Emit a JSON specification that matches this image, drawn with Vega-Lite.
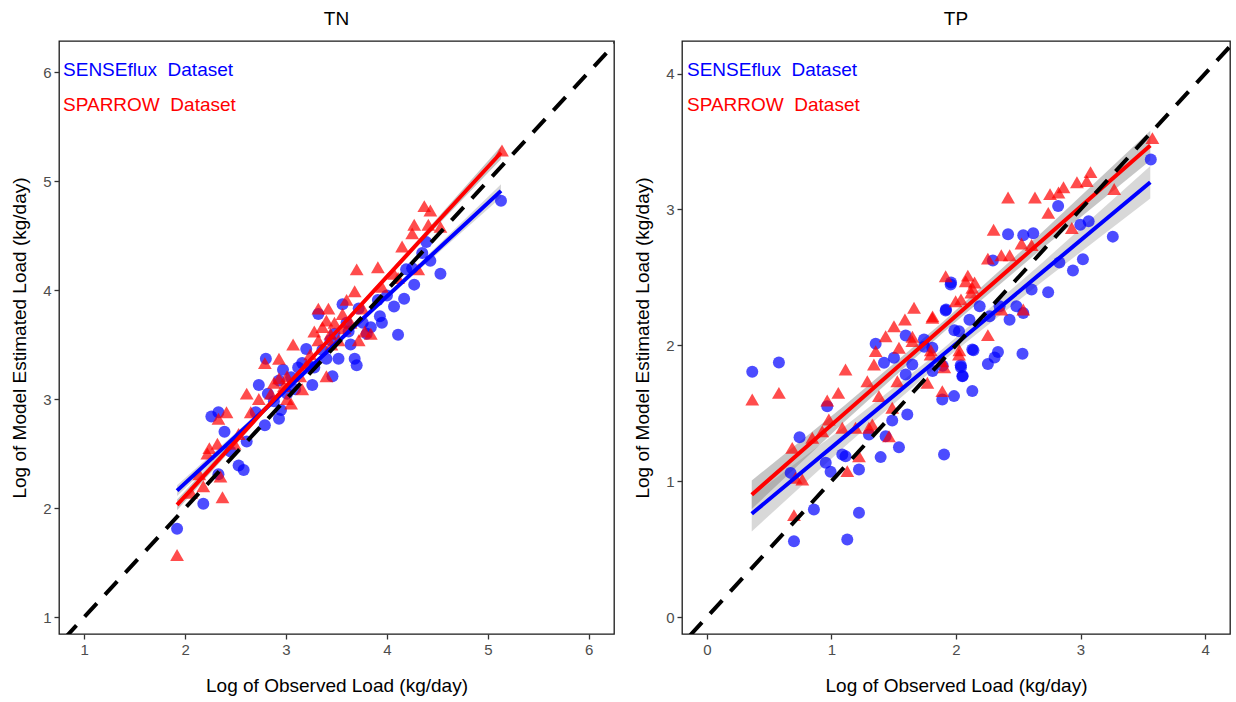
{
"$schema": "https://vega.github.io/schema/vega-lite/v6.json",
"background": "white",
"padding": {"left": 10, "top": 9, "right": 4, "bottom": 4},
"spacing": 18,
"config": {
  "font": "Liberation Sans",
  "view": {"stroke": "#1a1a1a", "strokeWidth": 1.3},
  "axis": {"grid": false, "domain": false, "ticks": true, "tickColor": "#333333", "tickSize": 5, "tickWidth": 1.3, "labelFontSize": 15, "labelColor": "#4d4d4d", "labelPadding": 3, "titleFontSize": 19, "titleFontWeight": "normal", "titleColor": "#000000"},
  "axisX": {"titlePadding": 19},
  "axisY": {"titlePadding": 13},
  "title": {"fontSize": 19, "fontWeight": "normal", "offset": 12, "anchor": "middle", "color": "#000000"}
},
"datasets": {
  "tn_pts": [
    {"series":"SENSEflux","x":1.92,"y":1.81},{"series":"SENSEflux","x":2.18,"y":2.04},{"series":"SENSEflux","x":2.26,"y":2.84},{"series":"SENSEflux","x":2.33,"y":2.88},{"series":"SENSEflux","x":2.39,"y":2.70},{"series":"SENSEflux","x":2.33,"y":2.31},{"series":"SENSEflux","x":2.53,"y":2.39},{"series":"SENSEflux","x":2.58,"y":2.35},{"series":"SENSEflux","x":2.61,"y":2.61},{"series":"SENSEflux","x":2.73,"y":3.13},{"series":"SENSEflux","x":2.80,"y":3.37},{"series":"SENSEflux","x":2.82,"y":3.05},{"series":"SENSEflux","x":2.79,"y":2.76},{"series":"SENSEflux","x":2.93,"y":2.82},{"series":"SENSEflux","x":2.95,"y":2.90},{"series":"SENSEflux","x":2.97,"y":3.27},{"series":"SENSEflux","x":2.93,"y":3.17},{"series":"SENSEflux","x":3.09,"y":3.09},{"series":"SENSEflux","x":3.16,"y":3.33},{"series":"SENSEflux","x":3.20,"y":3.46},{"series":"SENSEflux","x":3.26,"y":3.13},{"series":"SENSEflux","x":3.32,"y":3.78},{"series":"SENSEflux","x":3.28,"y":3.29},{"series":"SENSEflux","x":3.40,"y":3.37},{"series":"SENSEflux","x":3.46,"y":3.21},{"series":"SENSEflux","x":3.52,"y":3.37},{"series":"SENSEflux","x":3.44,"y":3.54},{"series":"SENSEflux","x":3.60,"y":3.70},{"series":"SENSEflux","x":3.68,"y":3.37},{"series":"SENSEflux","x":3.70,"y":3.31},{"series":"SENSEflux","x":3.76,"y":3.70},{"series":"SENSEflux","x":3.84,"y":3.66},{"series":"SENSEflux","x":3.93,"y":3.76},{"series":"SENSEflux","x":3.91,"y":3.91},{"series":"SENSEflux","x":4.07,"y":3.85},{"series":"SENSEflux","x":4.17,"y":3.92},{"series":"SENSEflux","x":4.11,"y":3.59},{"series":"SENSEflux","x":4.27,"y":4.05},{"series":"SENSEflux","x":4.35,"y":4.34},{"series":"SENSEflux","x":4.43,"y":4.27},{"series":"SENSEflux","x":4.53,"y":4.15},{"series":"SENSEflux","x":4.39,"y":4.44},{"series":"SENSEflux","x":4.19,"y":4.19},{"series":"SENSEflux","x":5.13,"y":4.82},{"series":"SENSEflux","x":3.01,"y":3.05},{"series":"SENSEflux","x":3.12,"y":3.29},{"series":"SENSEflux","x":3.64,"y":3.50},{"series":"SENSEflux","x":3.72,"y":3.83},{"series":"SENSEflux","x":3.56,"y":3.87},{"series":"SENSEflux","x":3.95,"y":3.70},{"series":"SENSEflux","x":4.25,"y":4.20},{"series":"SENSEflux","x":2.45,"y":2.52},{"series":"SENSEflux","x":2.88,"y":2.98},{"series":"SENSEflux","x":3.05,"y":3.20},{"series":"SENSEflux","x":3.36,"y":3.45},{"series":"SENSEflux","x":3.48,"y":3.60},{"series":"SENSEflux","x":3.80,"y":3.60},{"series":"SENSEflux","x":4.00,"y":3.95},{"series":"SENSEflux","x":2.70,"y":2.88},{"series":"SENSEflux","x":3.24,"y":3.30},{"series":"SENSEflux","x":3.62,"y":3.62},
    {"series":"SPARROW","x":1.92,"y":1.57},{"series":"SPARROW","x":2.06,"y":2.14},{"series":"SPARROW","x":2.18,"y":2.20},{"series":"SPARROW","x":2.24,"y":2.55},{"series":"SPARROW","x":2.32,"y":2.59},{"series":"SPARROW","x":2.37,"y":2.10},{"series":"SPARROW","x":2.33,"y":2.82},{"series":"SPARROW","x":2.41,"y":2.88},{"series":"SPARROW","x":2.35,"y":2.29},{"series":"SPARROW","x":2.14,"y":2.31},{"series":"SPARROW","x":2.49,"y":2.59},{"series":"SPARROW","x":2.53,"y":2.68},{"series":"SPARROW","x":2.65,"y":2.88},{"series":"SPARROW","x":2.73,"y":3.00},{"series":"SPARROW","x":2.79,"y":3.33},{"series":"SPARROW","x":2.85,"y":3.05},{"series":"SPARROW","x":2.93,"y":3.19},{"series":"SPARROW","x":3.01,"y":3.00},{"series":"SPARROW","x":3.07,"y":3.50},{"series":"SPARROW","x":3.14,"y":3.21},{"series":"SPARROW","x":3.20,"y":3.31},{"series":"SPARROW","x":3.24,"y":3.41},{"series":"SPARROW","x":3.32,"y":3.54},{"series":"SPARROW","x":3.36,"y":3.66},{"series":"SPARROW","x":3.40,"y":3.72},{"series":"SPARROW","x":3.44,"y":3.60},{"series":"SPARROW","x":3.48,"y":3.70},{"series":"SPARROW","x":3.40,"y":3.21},{"series":"SPARROW","x":3.56,"y":3.78},{"series":"SPARROW","x":3.60,"y":3.91},{"series":"SPARROW","x":3.68,"y":3.99},{"series":"SPARROW","x":3.70,"y":4.19},{"series":"SPARROW","x":3.72,"y":3.54},{"series":"SPARROW","x":3.78,"y":3.62},{"series":"SPARROW","x":3.84,"y":3.60},{"series":"SPARROW","x":3.91,"y":4.21},{"series":"SPARROW","x":3.95,"y":4.03},{"series":"SPARROW","x":4.07,"y":4.15},{"series":"SPARROW","x":4.15,"y":4.40},{"series":"SPARROW","x":4.25,"y":4.52},{"series":"SPARROW","x":4.31,"y":4.19},{"series":"SPARROW","x":4.37,"y":4.77},{"series":"SPARROW","x":4.43,"y":4.73},{"series":"SPARROW","x":4.41,"y":4.60},{"series":"SPARROW","x":4.53,"y":4.58},{"series":"SPARROW","x":5.14,"y":5.28},{"series":"SPARROW","x":2.93,"y":3.37},{"series":"SPARROW","x":3.16,"y":3.09},{"series":"SPARROW","x":3.01,"y":3.21},{"series":"SPARROW","x":3.52,"y":3.54},{"series":"SPARROW","x":3.32,"y":3.83},{"series":"SPARROW","x":3.64,"y":3.70},{"series":"SPARROW","x":4.11,"y":4.11},{"series":"SPARROW","x":4.27,"y":4.60},{"series":"SPARROW","x":2.61,"y":3.05},{"series":"SPARROW","x":3.05,"y":2.96},{"series":"SPARROW","x":3.28,"y":3.62},{"series":"SPARROW","x":3.42,"y":3.83},{"series":"SPARROW","x":3.76,"y":3.83},{"series":"SPARROW","x":2.22,"y":2.50},{"series":"SPARROW","x":2.98,"y":3.12},{"series":"SPARROW","x":3.45,"y":3.50},{"series":"SPARROW","x":3.58,"y":3.65},{"series":"SPARROW","x":2.88,"y":3.15}
  ],
  "tn_fit": [
    {"series":"SENSEflux","x":1.92,"fit":2.16,"lo":2.11,"hi":2.21},{"series":"SENSEflux","x":2.7,"fit":2.828,"lo":2.80,"hi":2.856},{"series":"SENSEflux","x":3.5,"fit":3.514,"lo":3.495,"hi":3.533},{"series":"SENSEflux","x":4.3,"fit":4.199,"lo":4.17,"hi":4.228},{"series":"SENSEflux","x":5.13,"fit":4.91,"lo":4.85,"hi":4.97},
    {"series":"SPARROW","x":1.92,"fit":2.03,"lo":1.98,"hi":2.08},{"series":"SPARROW","x":2.7,"fit":2.815,"lo":2.787,"hi":2.843},{"series":"SPARROW","x":3.5,"fit":3.62,"lo":3.60,"hi":3.64},{"series":"SPARROW","x":4.3,"fit":4.425,"lo":4.397,"hi":4.453},{"series":"SPARROW","x":5.13,"fit":5.26,"lo":5.20,"hi":5.32}
  ],
  "tn_diag": [{"x":0.6,"y":0.6},{"x":6.4,"y":6.4}],
  "tn_lab": [
    {"series":"SENSEflux","label":"SENSEflux\u00a0 Dataset","x":0.79,"y":6.02},
    {"series":"SPARROW","label":"SPARROW\u00a0 Dataset","x":0.79,"y":5.695}
  ],
  "tp_pts": [
    {"series":"SENSEflux","x":0.364,"y":1.805},{"series":"SENSEflux","x":0.578,"y":1.874},{"series":"SENSEflux","x":0.744,"y":1.324},{"series":"SENSEflux","x":0.699,"y":0.558},{"series":"SENSEflux","x":0.859,"y":0.791},{"series":"SENSEflux","x":1.127,"y":0.571},{"series":"SENSEflux","x":1.221,"y":0.767},{"series":"SENSEflux","x":0.966,"y":1.552},{"series":"SENSEflux","x":0.954,"y":1.135},{"series":"SENSEflux","x":0.993,"y":1.069},{"series":"SENSEflux","x":1.087,"y":1.196},{"series":"SENSEflux","x":1.113,"y":1.184},{"series":"SENSEflux","x":1.221,"y":1.086},{"series":"SENSEflux","x":1.395,"y":1.177},{"series":"SENSEflux","x":1.542,"y":1.25},{"series":"SENSEflux","x":1.609,"y":1.491},{"series":"SENSEflux","x":1.488,"y":1.447},{"series":"SENSEflux","x":1.435,"y":1.331},{"series":"SENSEflux","x":1.301,"y":1.344},{"series":"SENSEflux","x":0.672,"y":1.061},{"series":"SENSEflux","x":1.355,"y":2.011},{"series":"SENSEflux","x":1.422,"y":1.871},{"series":"SENSEflux","x":1.502,"y":1.908},{"series":"SENSEflux","x":1.596,"y":2.072},{"series":"SENSEflux","x":1.649,"y":1.859},{"series":"SENSEflux","x":1.743,"y":2.043},{"series":"SENSEflux","x":1.81,"y":1.982},{"series":"SENSEflux","x":1.89,"y":1.601},{"series":"SENSEflux","x":1.984,"y":1.626},{"series":"SENSEflux","x":1.904,"y":1.196},{"series":"SENSEflux","x":1.917,"y":2.256},{"series":"SENSEflux","x":1.957,"y":2.448},{"series":"SENSEflux","x":2.038,"y":1.854},{"series":"SENSEflux","x":2.051,"y":1.773},{"series":"SENSEflux","x":2.131,"y":1.969},{"series":"SENSEflux","x":2.131,"y":1.663},{"series":"SENSEflux","x":2.024,"y":2.104},{"series":"SENSEflux","x":1.596,"y":1.785},{"series":"SENSEflux","x":3.564,"y":3.368},{"series":"SENSEflux","x":3.259,"y":2.80},{"series":"SENSEflux","x":3.019,"y":2.633},{"series":"SENSEflux","x":2.939,"y":2.55},{"series":"SENSEflux","x":2.83,"y":2.61},{"series":"SENSEflux","x":2.74,"y":2.39},{"series":"SENSEflux","x":2.82,"y":3.025},{"series":"SENSEflux","x":2.998,"y":2.888},{"series":"SENSEflux","x":3.065,"y":2.913},{"series":"SENSEflux","x":2.62,"y":2.825},{"series":"SENSEflux","x":2.54,"y":2.81},{"series":"SENSEflux","x":2.418,"y":2.818},{"series":"SENSEflux","x":2.607,"y":2.41},{"series":"SENSEflux","x":2.534,"y":1.938},{"series":"SENSEflux","x":2.337,"y":1.95},{"series":"SENSEflux","x":2.31,"y":1.91},{"series":"SENSEflux","x":2.256,"y":1.863},{"series":"SENSEflux","x":2.14,"y":1.963},{"series":"SENSEflux","x":2.04,"y":1.838},{"series":"SENSEflux","x":2.054,"y":1.775},{"series":"SENSEflux","x":1.893,"y":1.85},{"series":"SENSEflux","x":1.92,"y":2.263},{"series":"SENSEflux","x":1.96,"y":2.463},{"series":"SENSEflux","x":2.296,"y":2.625},{"series":"SENSEflux","x":2.108,"y":2.188},{"series":"SENSEflux","x":2.43,"y":2.188},{"series":"SENSEflux","x":2.485,"y":2.288},{"series":"SENSEflux","x":2.54,"y":2.238},{"series":"SENSEflux","x":2.35,"y":2.288},{"series":"SENSEflux","x":2.27,"y":2.213},{"series":"SENSEflux","x":2.19,"y":2.288},{"series":"SENSEflux","x":1.745,"y":1.99},{"series":"SENSEflux","x":1.987,"y":2.11},{"series":"SENSEflux","x":1.812,"y":1.81},
    {"series":"SPARROW","x":0.364,"y":1.601},{"series":"SPARROW","x":0.578,"y":1.65},{"series":"SPARROW","x":1.113,"y":1.822},{"series":"SPARROW","x":1.055,"y":1.65},{"series":"SPARROW","x":0.966,"y":1.594},{"series":"SPARROW","x":0.699,"y":0.75},{"series":"SPARROW","x":0.685,"y":1.245},{"series":"SPARROW","x":0.712,"y":1.025},{"series":"SPARROW","x":0.766,"y":1.012},{"series":"SPARROW","x":0.846,"y":1.319},{"series":"SPARROW","x":0.926,"y":1.368},{"series":"SPARROW","x":0.979,"y":1.454},{"series":"SPARROW","x":1.087,"y":1.393},{"series":"SPARROW","x":1.127,"y":1.074},{"series":"SPARROW","x":1.221,"y":1.184},{"series":"SPARROW","x":1.301,"y":1.393},{"series":"SPARROW","x":1.328,"y":1.417},{"series":"SPARROW","x":1.381,"y":1.626},{"series":"SPARROW","x":1.488,"y":1.54},{"series":"SPARROW","x":1.462,"y":1.331},{"series":"SPARROW","x":1.288,"y":1.736},{"series":"SPARROW","x":1.341,"y":1.859},{"series":"SPARROW","x":1.355,"y":1.957},{"series":"SPARROW","x":1.435,"y":2.067},{"series":"SPARROW","x":1.502,"y":2.141},{"series":"SPARROW","x":1.59,"y":2.19},{"series":"SPARROW","x":1.663,"y":2.276},{"series":"SPARROW","x":1.81,"y":2.202},{"series":"SPARROW","x":1.77,"y":1.724},{"series":"SPARROW","x":1.89,"y":1.663},{"series":"SPARROW","x":1.917,"y":2.509},{"series":"SPARROW","x":1.997,"y":2.325},{"series":"SPARROW","x":2.078,"y":2.472},{"series":"SPARROW","x":2.131,"y":2.423},{"series":"SPARROW","x":1.542,"y":1.982},{"series":"SPARROW","x":1.649,"y":2.031},{"series":"SPARROW","x":1.796,"y":1.933},{"series":"SPARROW","x":1.89,"y":1.883},{"series":"SPARROW","x":2.024,"y":1.933},{"series":"SPARROW","x":1.194,"y":1.393},{"series":"SPARROW","x":1.529,"y":1.736},{"series":"SPARROW","x":3.577,"y":3.525},{"series":"SPARROW","x":3.27,"y":3.15},{"series":"SPARROW","x":3.08,"y":3.275},{"series":"SPARROW","x":3.05,"y":3.21},{"series":"SPARROW","x":2.971,"y":3.2},{"series":"SPARROW","x":2.863,"y":3.163},{"series":"SPARROW","x":2.823,"y":3.125},{"series":"SPARROW","x":2.755,"y":3.113},{"series":"SPARROW","x":2.634,"y":3.088},{"series":"SPARROW","x":2.418,"y":3.088},{"series":"SPARROW","x":2.741,"y":2.975},{"series":"SPARROW","x":2.302,"y":2.85},{"series":"SPARROW","x":2.526,"y":2.75},{"series":"SPARROW","x":2.607,"y":2.738},{"series":"SPARROW","x":2.93,"y":2.863},{"series":"SPARROW","x":2.256,"y":2.638},{"series":"SPARROW","x":2.364,"y":2.663},{"series":"SPARROW","x":2.431,"y":2.663},{"series":"SPARROW","x":2.095,"y":2.513},{"series":"SPARROW","x":2.149,"y":2.463},{"series":"SPARROW","x":1.812,"y":2.213},{"series":"SPARROW","x":2.04,"y":2.338},{"series":"SPARROW","x":2.122,"y":2.388},{"series":"SPARROW","x":2.256,"y":2.075},{"series":"SPARROW","x":2.364,"y":2.263},{"series":"SPARROW","x":2.54,"y":2.263},{"series":"SPARROW","x":2.027,"y":1.963},{"series":"SPARROW","x":1.906,"y":1.838},{"series":"SPARROW","x":1.798,"y":1.963},{"series":"SPARROW","x":1.65,"y":2.063}
  ],
  "tp_fit": [
    {"series":"SENSEflux","x":0.36,"fit":0.76,"lo":0.63,"hi":0.89},{"series":"SENSEflux","x":1.1,"fit":1.324,"lo":1.249,"hi":1.399},{"series":"SENSEflux","x":1.9,"fit":1.934,"lo":1.889,"hi":1.979},{"series":"SENSEflux","x":2.7,"fit":2.544,"lo":2.474,"hi":2.614},{"series":"SENSEflux","x":3.56,"fit":3.2,"lo":3.08,"hi":3.32},
    {"series":"SPARROW","x":0.36,"fit":0.9,"lo":0.795,"hi":1.005},{"series":"SPARROW","x":1.1,"fit":1.494,"lo":1.434,"hi":1.554},{"series":"SPARROW","x":1.9,"fit":2.137,"lo":2.097,"hi":2.177},{"series":"SPARROW","x":2.7,"fit":2.779,"lo":2.719,"hi":2.839},{"series":"SPARROW","x":3.56,"fit":3.47,"lo":3.36,"hi":3.58}
  ],
  "tp_diag": [{"x":-0.3,"y":-0.3},{"x":4.4,"y":4.4}],
  "tp_lab": [
    {"series":"SENSEflux","label":"SENSEflux\u00a0 Dataset","x":-0.16,"y":4.025},
    {"series":"SPARROW","label":"SPARROW\u00a0 Dataset","x":-0.16,"y":3.772}
  ]
},
"hconcat": [
  {
    "width": 555, "height": 593,
    "title": "TN",
    "layer": [
      {"data": {"name": "tn_fit"}, "transform": [{"filter": "datum.series === 'SENSEflux'"}],
       "mark": {"type": "area", "color": "#a8a8a8", "opacity": 0.45, "clip": true},
       "encoding": {
         "x": {"field": "x", "type": "quantitative", "scale": {"domain": [0.75, 6.25], "nice": false, "zero": false}, "axis": {"values": [1,2,3,4,5,6], "title": "Log of Observed Load (kg/day)"}},
         "y": {"field": "lo", "type": "quantitative", "scale": {"domain": [0.845, 6.285], "nice": false, "zero": false}, "axis": {"values": [1,2,3,4,5,6], "title": "Log of Model Estimated Load (kg/day)"}},
         "y2": {"field": "hi"}}},
      {"data": {"name": "tn_fit"}, "transform": [{"filter": "datum.series === 'SPARROW'"}],
       "mark": {"type": "area", "color": "#808080", "opacity": 0.45, "clip": true},
       "encoding": {
         "x": {"field": "x", "type": "quantitative", "scale": {"domain": [0.75, 6.25], "nice": false, "zero": false}, "axis": {"values": [1,2,3,4,5,6], "title": "Log of Observed Load (kg/day)"}},
         "y": {"field": "lo", "type": "quantitative", "scale": {"domain": [0.845, 6.285], "nice": false, "zero": false}, "axis": {"values": [1,2,3,4,5,6], "title": "Log of Model Estimated Load (kg/day)"}},
         "y2": {"field": "hi"}}},
      {"data": {"name": "tn_pts"}, "transform": [{"filter": "datum.series === 'SENSEflux'"}],
       "mark": {"type": "point", "shape": "circle", "filled": true, "size": 144, "color": "#0000ff", "opacity": 0.7, "strokeWidth": 0},
       "encoding": {
         "x": {"field": "x", "type": "quantitative", "scale": {"domain": [0.75, 6.25], "nice": false, "zero": false}, "axis": {"values": [1,2,3,4,5,6], "title": "Log of Observed Load (kg/day)"}},
         "y": {"field": "y", "type": "quantitative", "scale": {"domain": [0.845, 6.285], "nice": false, "zero": false}, "axis": {"values": [1,2,3,4,5,6], "title": "Log of Model Estimated Load (kg/day)"}}}},
      {"data": {"name": "tn_pts"}, "transform": [{"filter": "datum.series === 'SPARROW'"}],
       "mark": {"type": "point", "shape": "triangle-up", "filled": true, "size": 190, "color": "#ff0000", "opacity": 0.7, "strokeWidth": 0},
       "encoding": {
         "x": {"field": "x", "type": "quantitative", "scale": {"domain": [0.75, 6.25], "nice": false, "zero": false}, "axis": {"values": [1,2,3,4,5,6], "title": "Log of Observed Load (kg/day)"}},
         "y": {"field": "y", "type": "quantitative", "scale": {"domain": [0.845, 6.285], "nice": false, "zero": false}, "axis": {"values": [1,2,3,4,5,6], "title": "Log of Model Estimated Load (kg/day)"}}}},
      {"data": {"name": "tn_fit"},
       "mark": {"type": "line", "strokeWidth": 4, "clip": true},
       "encoding": {
         "x": {"field": "x", "type": "quantitative", "scale": {"domain": [0.75, 6.25], "nice": false, "zero": false}, "axis": {"values": [1,2,3,4,5,6], "title": "Log of Observed Load (kg/day)"}},
         "y": {"field": "fit", "type": "quantitative", "scale": {"domain": [0.845, 6.285], "nice": false, "zero": false}, "axis": {"values": [1,2,3,4,5,6], "title": "Log of Model Estimated Load (kg/day)"}},
         "color": {"field": "series", "type": "nominal", "scale": {"domain": ["SENSEflux", "SPARROW"], "range": ["#0000ff", "#ff0000"]}, "legend": null}}},
      {"data": {"name": "tn_diag"},
       "mark": {"type": "line", "color": "#000000", "strokeWidth": 4, "strokeDash": [18, 12], "clip": true},
       "encoding": {
         "x": {"field": "x", "type": "quantitative", "scale": {"domain": [0.75, 6.25], "nice": false, "zero": false}, "axis": {"values": [1,2,3,4,5,6], "title": "Log of Observed Load (kg/day)"}},
         "y": {"field": "y", "type": "quantitative", "scale": {"domain": [0.845, 6.285], "nice": false, "zero": false}, "axis": {"values": [1,2,3,4,5,6], "title": "Log of Model Estimated Load (kg/day)"}}}},
      {"data": {"name": "tn_lab"},
       "mark": {"type": "text", "align": "left", "baseline": "middle", "fontSize": 19},
       "encoding": {
         "x": {"field": "x", "type": "quantitative", "scale": {"domain": [0.75, 6.25], "nice": false, "zero": false}, "axis": {"values": [1,2,3,4,5,6], "title": "Log of Observed Load (kg/day)"}},
         "y": {"field": "y", "type": "quantitative", "scale": {"domain": [0.845, 6.285], "nice": false, "zero": false}, "axis": {"values": [1,2,3,4,5,6], "title": "Log of Model Estimated Load (kg/day)"}},
         "text": {"field": "label", "type": "nominal"},
         "color": {"field": "series", "type": "nominal", "scale": {"domain": ["SENSEflux", "SPARROW"], "range": ["#0000ff", "#ff0000"]}, "legend": null}}}
    ]
  },
  {
    "width": 548, "height": 593,
    "title": "TP",
    "layer": [
      {"data": {"name": "tp_fit"}, "transform": [{"filter": "datum.series === 'SENSEflux'"}],
       "mark": {"type": "area", "color": "#a8a8a8", "opacity": 0.45, "clip": true},
       "encoding": {
         "x": {"field": "x", "type": "quantitative", "scale": {"domain": [-0.2, 4.2], "nice": false, "zero": false}, "axis": {"values": [0,1,2,3,4], "title": "Log of Observed Load (kg/day)"}},
         "y": {"field": "lo", "type": "quantitative", "scale": {"domain": [-0.125, 4.24], "nice": false, "zero": false}, "axis": {"values": [0,1,2,3,4], "title": "Log of Model Estimated Load (kg/day)"}},
         "y2": {"field": "hi"}}},
      {"data": {"name": "tp_fit"}, "transform": [{"filter": "datum.series === 'SPARROW'"}],
       "mark": {"type": "area", "color": "#808080", "opacity": 0.45, "clip": true},
       "encoding": {
         "x": {"field": "x", "type": "quantitative", "scale": {"domain": [-0.2, 4.2], "nice": false, "zero": false}, "axis": {"values": [0,1,2,3,4], "title": "Log of Observed Load (kg/day)"}},
         "y": {"field": "lo", "type": "quantitative", "scale": {"domain": [-0.125, 4.24], "nice": false, "zero": false}, "axis": {"values": [0,1,2,3,4], "title": "Log of Model Estimated Load (kg/day)"}},
         "y2": {"field": "hi"}}},
      {"data": {"name": "tp_pts"}, "transform": [{"filter": "datum.series === 'SENSEflux'"}],
       "mark": {"type": "point", "shape": "circle", "filled": true, "size": 144, "color": "#0000ff", "opacity": 0.7, "strokeWidth": 0},
       "encoding": {
         "x": {"field": "x", "type": "quantitative", "scale": {"domain": [-0.2, 4.2], "nice": false, "zero": false}, "axis": {"values": [0,1,2,3,4], "title": "Log of Observed Load (kg/day)"}},
         "y": {"field": "y", "type": "quantitative", "scale": {"domain": [-0.125, 4.24], "nice": false, "zero": false}, "axis": {"values": [0,1,2,3,4], "title": "Log of Model Estimated Load (kg/day)"}}}},
      {"data": {"name": "tp_pts"}, "transform": [{"filter": "datum.series === 'SPARROW'"}],
       "mark": {"type": "point", "shape": "triangle-up", "filled": true, "size": 190, "color": "#ff0000", "opacity": 0.7, "strokeWidth": 0},
       "encoding": {
         "x": {"field": "x", "type": "quantitative", "scale": {"domain": [-0.2, 4.2], "nice": false, "zero": false}, "axis": {"values": [0,1,2,3,4], "title": "Log of Observed Load (kg/day)"}},
         "y": {"field": "y", "type": "quantitative", "scale": {"domain": [-0.125, 4.24], "nice": false, "zero": false}, "axis": {"values": [0,1,2,3,4], "title": "Log of Model Estimated Load (kg/day)"}}}},
      {"data": {"name": "tp_fit"},
       "mark": {"type": "line", "strokeWidth": 4, "clip": true},
       "encoding": {
         "x": {"field": "x", "type": "quantitative", "scale": {"domain": [-0.2, 4.2], "nice": false, "zero": false}, "axis": {"values": [0,1,2,3,4], "title": "Log of Observed Load (kg/day)"}},
         "y": {"field": "fit", "type": "quantitative", "scale": {"domain": [-0.125, 4.24], "nice": false, "zero": false}, "axis": {"values": [0,1,2,3,4], "title": "Log of Model Estimated Load (kg/day)"}},
         "color": {"field": "series", "type": "nominal", "scale": {"domain": ["SENSEflux", "SPARROW"], "range": ["#0000ff", "#ff0000"]}, "legend": null}}},
      {"data": {"name": "tp_diag"},
       "mark": {"type": "line", "color": "#000000", "strokeWidth": 4, "strokeDash": [18, 12], "clip": true},
       "encoding": {
         "x": {"field": "x", "type": "quantitative", "scale": {"domain": [-0.2, 4.2], "nice": false, "zero": false}, "axis": {"values": [0,1,2,3,4], "title": "Log of Observed Load (kg/day)"}},
         "y": {"field": "y", "type": "quantitative", "scale": {"domain": [-0.125, 4.24], "nice": false, "zero": false}, "axis": {"values": [0,1,2,3,4], "title": "Log of Model Estimated Load (kg/day)"}}}},
      {"data": {"name": "tp_lab"},
       "mark": {"type": "text", "align": "left", "baseline": "middle", "fontSize": 19},
       "encoding": {
         "x": {"field": "x", "type": "quantitative", "scale": {"domain": [-0.2, 4.2], "nice": false, "zero": false}, "axis": {"values": [0,1,2,3,4], "title": "Log of Observed Load (kg/day)"}},
         "y": {"field": "y", "type": "quantitative", "scale": {"domain": [-0.125, 4.24], "nice": false, "zero": false}, "axis": {"values": [0,1,2,3,4], "title": "Log of Model Estimated Load (kg/day)"}},
         "text": {"field": "label", "type": "nominal"},
         "color": {"field": "series", "type": "nominal", "scale": {"domain": ["SENSEflux", "SPARROW"], "range": ["#0000ff", "#ff0000"]}, "legend": null}}}
    ]
  }
]
}
